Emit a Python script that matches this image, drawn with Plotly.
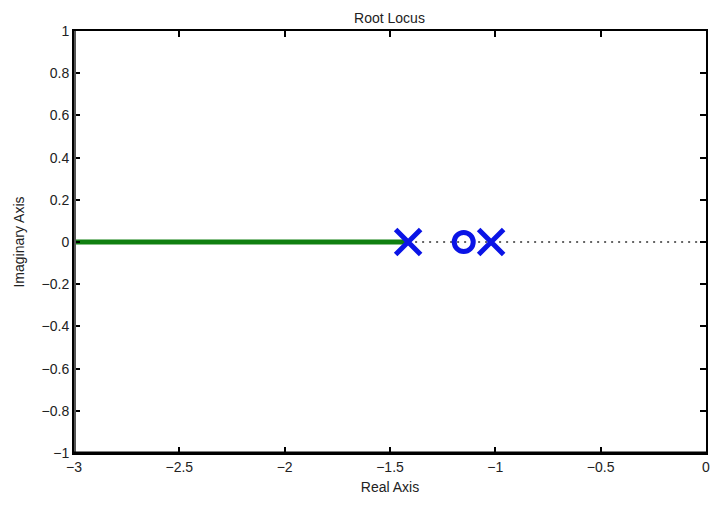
import plotly.graph_objects as go

locus_x = [-3.0, -1.414]
locus_y = [0.0, 0.0]
dotted_x = [-1.414, 0.0]
dotted_y = [0.0, 0.0]
pole_x = [-1.414, -1.02]
pole_y = [0.0, 0.0]
zero_x = [-1.15]
zero_y = [0.0]
x_ticks = [-3, -2.5, -2, -1.5, -1, -0.5, 0]
y_ticks = [-1, -0.8, -0.6, -0.4, -0.2, 0, 0.2, 0.4, 0.6, 0.8, 1]

font = "Liberation Sans Narrow, Liberation Sans, Arial"

fig = go.Figure()
fig.add_trace(go.Scatter(x=dotted_x, y=dotted_y, mode="lines",
                         line=dict(color="#333", width=1.5, dash="2px,5px"), showlegend=False))
fig.add_trace(go.Scatter(x=locus_x, y=locus_y, mode="lines",
                         line=dict(color="#108010", width=5), showlegend=False))
fig.add_trace(go.Scatter(x=zero_x, y=zero_y, mode="markers",
                         marker=dict(symbol="circle-open", size=19, color="#0a14e6",
                                     line=dict(width=5, color="#0a14e6")), showlegend=False))
fig.add_trace(go.Scatter(x=pole_x, y=pole_y, mode="markers",
                         marker=dict(symbol="x-thin-open", size=25, color="#0a14e6",
                                     line=dict(width=5, color="#0a14e6")), showlegend=False))

fig.update_layout(
    width=716, height=508,
    margin=dict(l=74, r=6, t=31, b=55),
    paper_bgcolor="white", plot_bgcolor="white",
    font=dict(family=font, size=14, color="#222"),
    title=dict(text="Root Locus", x=0.544, xanchor="center", y=0.965, yanchor="middle",
               font=dict(family=font, size=14, color="#222")),
    xaxis=dict(range=[-3, 0], tickvals=x_ticks, ticktext=[f"{v:g}".replace("-", "\u2212") for v in x_ticks],
               ticks="inside", ticklen=6, tickwidth=2, tickcolor="black",
               showline=True, linecolor="black", linewidth=2, mirror="ticks",
               showgrid=False, zeroline=False,
               title=dict(text="Real Axis", standoff=8, font=dict(family=font, size=14))),
    yaxis=dict(range=[-1, 1], tickvals=y_ticks, ticktext=[f"{v:g}".replace("-", "\u2212") for v in y_ticks],
               ticks="inside", ticklen=6, tickwidth=2, tickcolor="black",
               showline=True, linecolor="black", linewidth=2, mirror="ticks",
               showgrid=False, zeroline=False,
               title=dict(text="Imaginary Axis", standoff=14, font=dict(family=font, size=14))),
)
fig.add_shape(type="line", xref="x", yref="paper", x0=-3, x1=-3, y0=0, y1=1,
              line=dict(color="#555", width=4))
fig.add_shape(type="line", xref="paper", yref="y", x0=0, x1=1, y0=-1, y1=-1,
              line=dict(color="black", width=3))
fig.write_html("out.html")
